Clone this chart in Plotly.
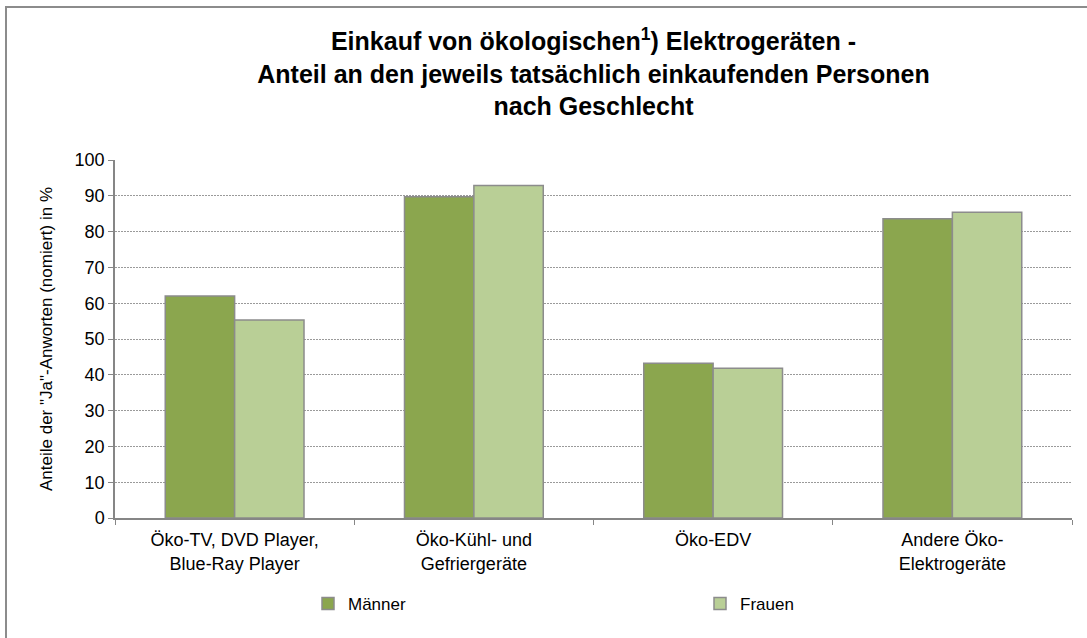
import plotly.graph_objects as go

categories = [
    "Öko-TV, DVD Player,<br>Blue-Ray Player",
    "Öko-Kühl- und<br>Gefriergeräte",
    "Öko-EDV",
    "Andere Öko-<br>Elektrogeräte",
]
maenner = [62.0, 89.7, 43.2, 83.6]
frauen = [55.3, 92.9, 41.8, 85.4]

y_ticks = list(range(0, 101, 10))

FONT = "Liberation Sans, Arial, sans-serif"
EDGE = "#8c8c8c"

fig = go.Figure()
fig.add_trace(go.Bar(
    name="Männer", x=categories, y=maenner, legend="legend", showlegend=True,
    marker=dict(color="#8ba64e", line=dict(color=EDGE, width=1.5)),
))
fig.add_trace(go.Bar(
    name="Frauen", x=categories, y=frauen, legend="legend2", showlegend=True,
    marker=dict(color="#b9cf96", line=dict(color=EDGE, width=1.5)),
))

legend_common = dict(
    orientation="h", xref="container", yref="container",
    xanchor="left", yanchor="middle", y=1 - 604 / 638,
    font=dict(size=17, family=FONT), bgcolor="rgba(0,0,0,0)",
    itemwidth=30,
)

fig.update_layout(
    width=1087, height=638,
    margin=dict(l=115, r=15, t=160, b=120),
    paper_bgcolor="white", plot_bgcolor="white",
    font=dict(family=FONT, color="#000000"),
    showlegend=True,
    barmode="group", bargap=0.42, bargroupgap=0,
    title=dict(
        text="<b>Einkauf von ökologischen<sup>1</sup>) Elektrogeräten -<br>"
             "Anteil an den jeweils tatsächlich einkaufenden Personen<br>"
             "nach Geschlecht</b>",
        x=0.5, xanchor="center", xref="paper",
        y=1 - 50 / 638, yanchor="middle", yref="container",
        font=dict(size=25, family=FONT, color="#000000"),
    ),
    legend=dict(legend_common, x=308 / 1087),
    legend2=dict(legend_common, x=700 / 1087),
    xaxis=dict(
        type="category", tickson="boundaries",
        ticks="outside", ticklen=5, tickcolor="#868686",
        showline=True, linecolor="#868686", linewidth=1.5,
        tickfont=dict(size=18, family=FONT), ticklabelstandoff=5,
        showgrid=False,
    ),
    yaxis=dict(
        range=[0, 100], tickvals=y_ticks,
        ticks="outside", ticklen=5, tickcolor="#868686",
        showline=True, linecolor="#868686", linewidth=1.5,
        tickfont=dict(size=18, family=FONT),
        showgrid=True, gridcolor="#9a9a9a", griddash="2px,1px", gridwidth=1,
        zeroline=False,
        title=dict(text="Anteile der \"Ja\"-Anworten (nomiert) in %",
                   font=dict(size=17, family=FONT), standoff=18),
    ),
    shapes=[dict(
        type="rect", xref="paper", yref="paper",
        x0=(6 - 115) / 957, x1=(1095 - 115) / 957,
        y0=(518 - 645) / 358, y1=(518 - 7) / 358,
        line=dict(color="#8c8c8c", width=2), fillcolor="rgba(0,0,0,0)",
        layer="below",
    )],
)

fig.write_html("out.html")
